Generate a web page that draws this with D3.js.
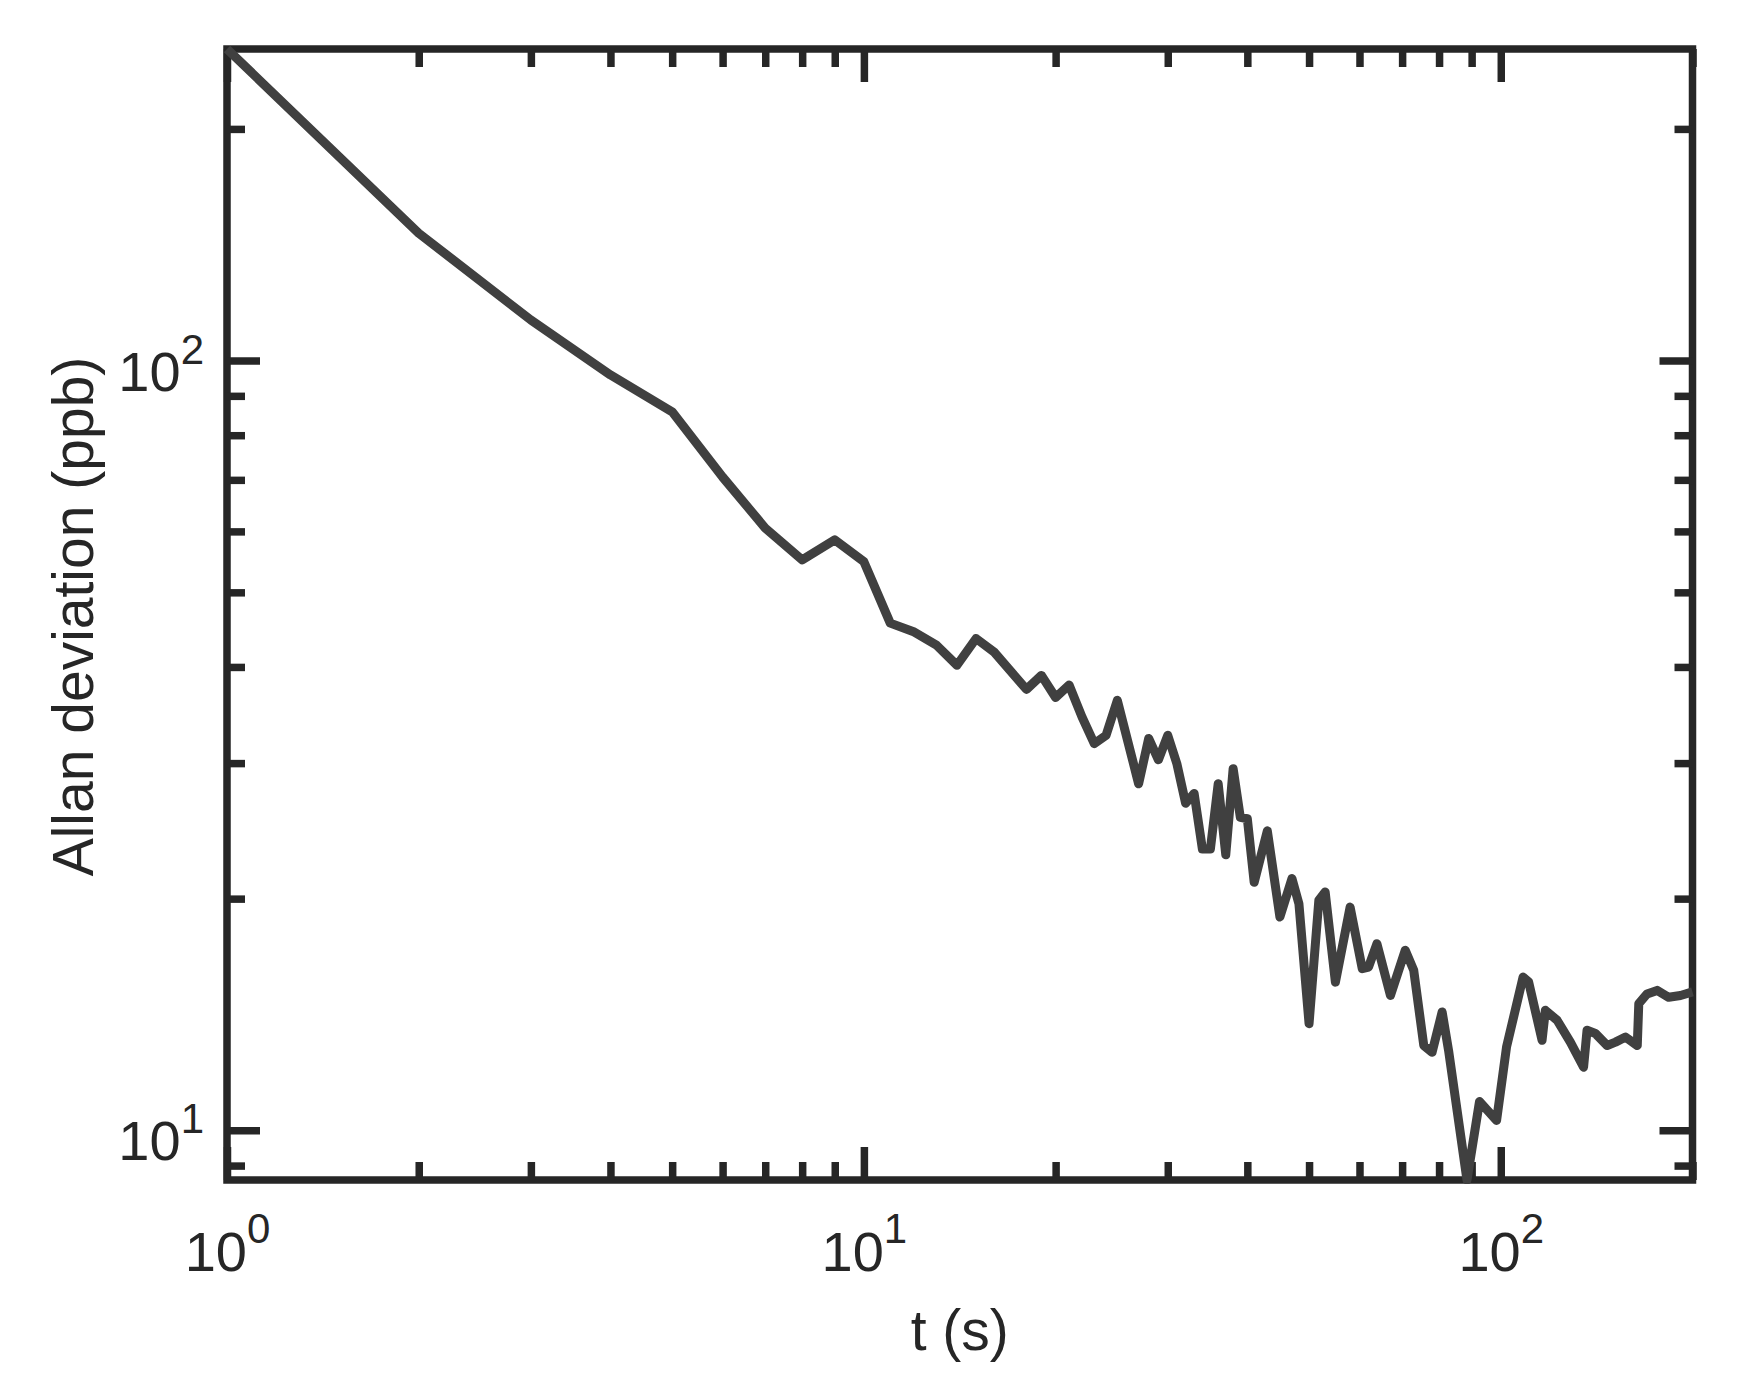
<!DOCTYPE html>
<html>
<head>
<meta charset="utf-8">
<script src="https://cdn.jsdelivr.net/npm/d3@7"></script>
<style>
  html, body { margin: 0; padding: 0; background: #ffffff; }
  text { font-family: "Liberation Sans", Arial, Helvetica, sans-serif; fill: #262626; }
</style>
</head>
<body>
<svg id="chart" width="1744" height="1398"></svg>
<script>
// ---- Data ----
const tauSeconds = [1, 2, 3, 4, 5, 6, 7, 8, 9, 10, 11, 12, 13, 14, 15, 16, 18, 19, 20, 21,
  22, 23, 24, 25, 27, 28, 29, 30, 31, 32, 33, 34, 35, 36, 37, 38, 39, 40, 41, 43,
  45, 47, 48.2, 50, 51.8, 53, 55, 58, 60.6, 62, 63.9, 67.1, 70.8, 73, 75.7, 78, 80.9, 82.8, 88.5, 92.6,
  98.5, 102.1, 108.4, 110.6, 116.1, 117.5, 122.6, 128.6, 134.9, 136.6, 140.8, 146.9, 151.4, 157, 163.8, 164.7,
  169.7, 176, 183.5, 191.5, 200];
const allanDeviation = [254, 146.4, 112.9, 95.8, 85.8, 70.6, 60.6, 55.1, 58.5, 54.8, 45.6, 44.4, 42.7, 40.2, 43.55, 41.85, 37.4, 39.0, 36.5, 37.9,
  34.45, 31.8, 32.6, 36.2, 28.2, 32.3, 30.3, 32.6, 29.96, 26.6, 27.4, 23.2, 23.2, 28.2, 22.8, 29.5, 25.5, 25.4, 21.0, 24.5,
  18.93, 21.24, 19.7, 13.76, 19.9, 20.4, 15.58, 19.5, 16.22, 16.3, 17.48, 14.97, 17.14, 16.14, 12.89, 12.63, 14.25, 12.7, 8.62, 10.9,
  10.3, 12.83, 15.82, 15.59, 13.09, 14.32, 13.9, 13.02, 12.08, 13.49, 13.36, 12.89, 13.02, 13.22, 12.89, 14.61,
  15.04, 15.2, 14.89, 14.97, 15.13];

const xMajorTicks = [1, 10, 100];
const xMinorTicks = [2, 3, 4, 5, 6, 7, 8, 9, 20, 30, 40, 50, 60, 70, 80, 90, 200];
const yMajorTicks = [10, 100];
const yMinorTicks = [9, 20, 30, 40, 50, 60, 70, 80, 90, 200];
const tickBase = "10";
const xTitle = "t (s)";
const yTitle = "Allan deviation (ppb)";

// ---- Layout ----
const plot = { left: 227, right: 1692.5, top: 49, bottom: 1180 };
const axisColor = "#262626";
const lineColor = "#404040";
const axisWidth = 7.5;
const majorLen = 33, minorLen = 18;
const fontMain = 56, fontSup = 42;

const svg = d3.select("#chart");

const x = d3.scaleLog()
  .domain(d3.extent(tauSeconds))
  .range([plot.left, plot.right]);
const y = d3.scaleLog()
  .domain(d3.extent(allanDeviation))
  .range([plot.bottom, plot.top]);

svg.append("defs").append("clipPath").attr("id", "plotClip")
  .append("rect")
  .attr("x", plot.left - 4).attr("y", plot.top - 4)
  .attr("width", plot.right - plot.left + 8)
  .attr("height", plot.bottom - plot.top + 8);

// frame
svg.append("rect")
  .attr("x", plot.left).attr("y", plot.top)
  .attr("width", plot.right - plot.left)
  .attr("height", plot.bottom - plot.top)
  .attr("fill", "none")
  .attr("stroke", axisColor)
  .attr("stroke-width", axisWidth);

function makeAxis(axisFn, scale, ticks, len, transform) {
  const ax = axisFn(scale).tickValues(ticks).tickSizeInner(-len).tickSizeOuter(0).tickFormat(() => "");
  const g = svg.append("g").attr("transform", transform).call(ax);
  g.select(".domain").remove();
  g.selectAll(".tick line").attr("stroke", axisColor).attr("stroke-width", axisWidth);
  g.selectAll(".tick text").remove();
  return g;
}

const xb = makeAxis(d3.axisBottom, x, xMajorTicks, majorLen, `translate(0,${plot.bottom})`);
makeAxis(d3.axisBottom, x, xMinorTicks, minorLen, `translate(0,${plot.bottom})`);
makeAxis(d3.axisTop, x, xMajorTicks, majorLen, `translate(0,${plot.top})`);
makeAxis(d3.axisTop, x, xMinorTicks, minorLen, `translate(0,${plot.top})`);
const yl = makeAxis(d3.axisLeft, y, yMajorTicks, majorLen, `translate(${plot.left},0)`);
makeAxis(d3.axisLeft, y, yMinorTicks, minorLen, `translate(${plot.left},0)`);
makeAxis(d3.axisRight, y, yMajorTicks, majorLen, `translate(${plot.right},0)`);
makeAxis(d3.axisRight, y, yMinorTicks, minorLen, `translate(${plot.right},0)`);

function powerLabel(sel, d, yBase, supRaise) {
  const t = sel.append("text")
    .attr("y", yBase)
    .attr("text-anchor", "start")
    .attr("font-size", fontMain)
    .attr("font-family", "Liberation Sans, Arial, sans-serif");
  t.append("tspan").attr("font-size", fontMain).text(tickBase);
  t.append("tspan").attr("font-size", fontSup).attr("dy", -supRaise)
    .text(String(Math.round(Math.log10(d))));
  return t;
}

xb.selectAll(".tick").each(function(d) {
  const t = powerLabel(d3.select(this), d, 91, 28);
  const w = t.node().getComputedTextLength();
  t.attr("x", -w / 2);
});
yl.selectAll(".tick").each(function(d) {
  const t = powerLabel(d3.select(this), d, 29.5, 27);
  const w = t.node().getComputedTextLength();
  t.attr("x", -23 - w);
});

// data line
const line = d3.line()
  .x((d, i) => x(tauSeconds[i]))
  .y(d => y(d));
svg.append("path")
  .datum(allanDeviation)
  .attr("clip-path", "url(#plotClip)")
  .attr("d", line)
  .attr("fill", "none")
  .attr("stroke", lineColor)
  .attr("stroke-width", 9)
  .attr("stroke-linejoin", "round")
  .attr("stroke-linecap", "butt");

// axis titles
svg.append("text")
  .attr("x", (plot.left + plot.right) / 2)
  .attr("y", 1350)
  .attr("text-anchor", "middle")
  .attr("font-size", 57)
  .text(xTitle);
svg.append("text")
  .attr("transform", `translate(93,${(plot.top + plot.bottom) / 2 + 2}) rotate(-90)`)
  .attr("text-anchor", "middle")
  .attr("font-size", 57)
  .text(yTitle);
</script>
</body>
</html>
